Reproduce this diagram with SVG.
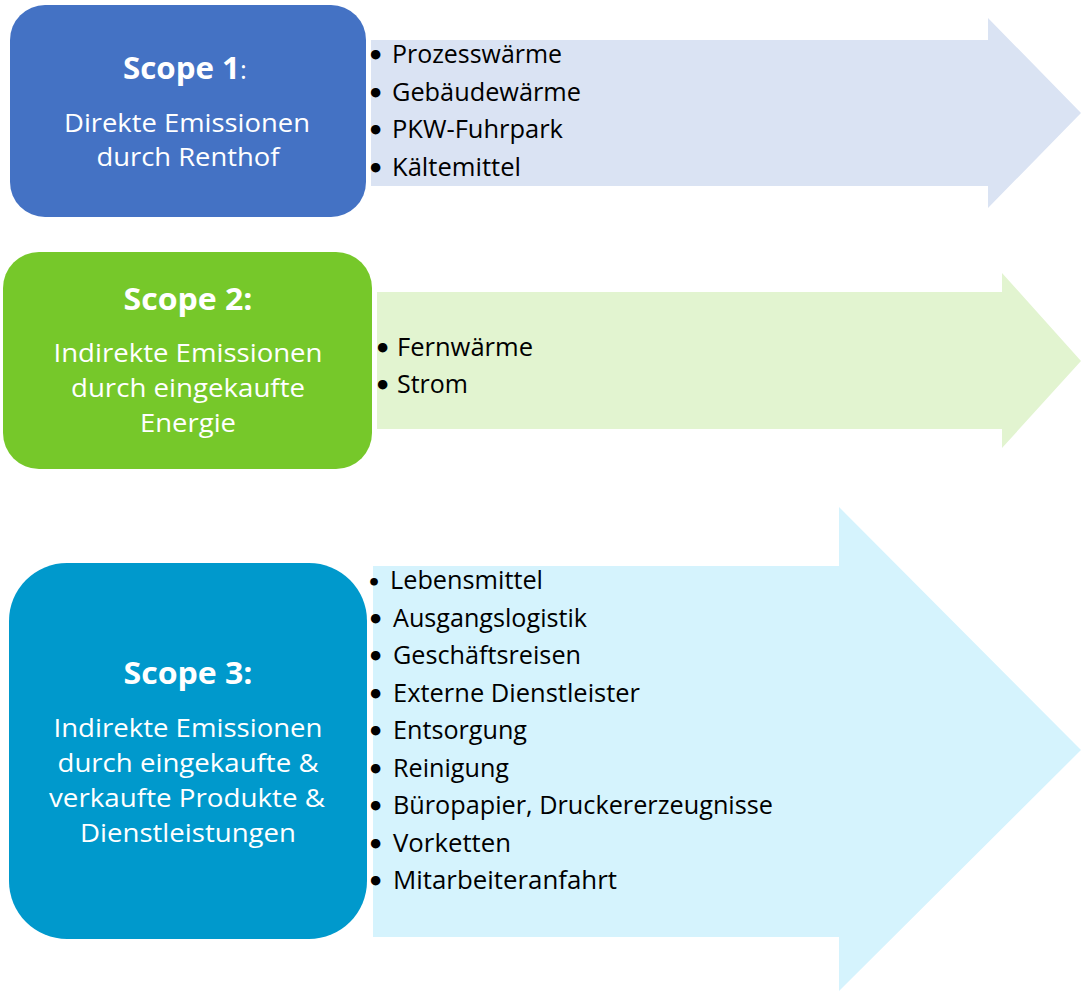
<svg xmlns="http://www.w3.org/2000/svg" width="1081" height="991" viewBox="0 0 1081 991">
<style>
.box-title{font-family:"Open Sans","Noto Sans",sans-serif;font-weight:700;font-size:30px;fill:#ffffff}
.box-text{font-family:"Open Sans","Noto Sans",sans-serif;font-size:26px;fill:#ffffff}
.item{font-family:"Open Sans","Noto Sans",sans-serif;font-size:26px;fill:#000000}
.bullet{font-family:"DejaVu Sans",sans-serif;font-size:27px;font-weight:700}
.bullet-s{font-family:"DejaVu Sans",sans-serif;font-size:22px;font-weight:700}
</style>
<rect x="0" y="0" width="1081" height="991" fill="#ffffff"/>
<g id="connectors"/>
<g id="arrow1">
<polygon points="371,40 988,40 988,18 1081,113 988,208 988,186 371,186" fill="#DAE3F3"/>
<text class="item" y="63"><tspan class="bullet" x="367" dy="2">•</tspan><tspan x="392" dy="-2" textLength="170" lengthAdjust="spacingAndGlyphs">Prozesswärme</tspan></text>
<text class="item" y="101"><tspan class="bullet" x="367" dy="2">•</tspan><tspan x="392" dy="-2" textLength="189" lengthAdjust="spacingAndGlyphs">Gebäudewärme</tspan></text>
<text class="item" y="138"><tspan class="bullet" x="367" dy="2">•</tspan><tspan x="392" dy="-2" textLength="171" lengthAdjust="spacingAndGlyphs">PKW-Fuhrpark</tspan></text>
<text class="item" y="176"><tspan class="bullet" x="367" dy="2">•</tspan><tspan x="392" dy="-2" textLength="129" lengthAdjust="spacingAndGlyphs">Kältemittel</tspan></text>
</g>
<g id="scope1">
<rect x="10" y="5" width="356" height="212" rx="35" ry="35" fill="#4472C4"/>
<text x="123" y="79"><tspan class="box-title" textLength="117" lengthAdjust="spacingAndGlyphs">Scope 1</tspan><tspan class="box-text" font-size="30">:</tspan></text>
<text class="box-text" x="187" y="132" text-anchor="middle" textLength="246" lengthAdjust="spacingAndGlyphs">Direkte Emissionen</text>
<text class="box-text" x="188" y="166" text-anchor="middle" textLength="183" lengthAdjust="spacingAndGlyphs">durch Renthof</text>
</g>
<g id="arrow2">
<polygon points="377,292 1002,292 1002,273 1081,361 1002,448 1002,429 377,429" fill="#E2F4D0"/>
<text class="item" y="356"><tspan class="bullet" x="374" dy="2">•</tspan><tspan x="397" dy="-2" textLength="136" lengthAdjust="spacingAndGlyphs">Fernwärme</tspan></text>
<text class="item" y="393"><tspan class="bullet" x="374" dy="2">•</tspan><tspan x="397" dy="-2" textLength="71" lengthAdjust="spacingAndGlyphs">Strom</tspan></text>
</g>
<g id="scope2">
<rect x="3" y="252" width="369" height="217" rx="36" ry="36" fill="#76C82A"/>
<text class="box-title" x="188" y="310" text-anchor="middle" textLength="129" lengthAdjust="spacingAndGlyphs">Scope 2:</text>
<text class="box-text" x="188" y="362" text-anchor="middle" textLength="269" lengthAdjust="spacingAndGlyphs">Indirekte Emissionen</text>
<text class="box-text" x="188" y="397" text-anchor="middle" textLength="234" lengthAdjust="spacingAndGlyphs">durch eingekaufte</text>
<text class="box-text" x="188" y="432" text-anchor="middle" textLength="96" lengthAdjust="spacingAndGlyphs">Energie</text>
</g>
<g id="arrow3">
<polygon points="373,566 839,566 839,507 1081,750 839,991 839,937 373,937" fill="#D5F3FD"/>
<text class="item" y="589"><tspan class="bullet-s" x="367" dy="1">•</tspan><tspan x="390" dy="-1" textLength="153" lengthAdjust="spacingAndGlyphs">Lebensmittel</tspan></text>
<text class="item" y="627"><tspan class="bullet" x="367" dy="2">•</tspan><tspan x="393" dy="-2" textLength="194" lengthAdjust="spacingAndGlyphs">Ausgangslogistik</tspan></text>
<text class="item" y="664"><tspan class="bullet" x="367" dy="2">•</tspan><tspan x="393" dy="-2" textLength="188" lengthAdjust="spacingAndGlyphs">Geschäftsreisen</tspan></text>
<text class="item" y="702"><tspan class="bullet" x="367" dy="2">•</tspan><tspan x="393" dy="-2" textLength="247" lengthAdjust="spacingAndGlyphs">Externe Dienstleister</tspan></text>
<text class="item" y="739"><tspan class="bullet" x="367" dy="2">•</tspan><tspan x="393" dy="-2" textLength="134" lengthAdjust="spacingAndGlyphs">Entsorgung</tspan></text>
<text class="item" y="777"><tspan class="bullet" x="367" dy="2">•</tspan><tspan x="393" dy="-2" textLength="116" lengthAdjust="spacingAndGlyphs">Reinigung</tspan></text>
<text class="item" y="814"><tspan class="bullet" x="367" dy="2">•</tspan><tspan x="393" dy="-2" textLength="380" lengthAdjust="spacingAndGlyphs">Büropapier, Druckererzeugnisse</tspan></text>
<text class="item" y="852"><tspan class="bullet" x="367" dy="2">•</tspan><tspan x="393" dy="-2" textLength="118" lengthAdjust="spacingAndGlyphs">Vorketten</tspan></text>
<text class="item" y="889"><tspan class="bullet" x="367" dy="2">•</tspan><tspan x="393" dy="-2" textLength="224" lengthAdjust="spacingAndGlyphs">Mitarbeiteranfahrt</tspan></text>
</g>
<g id="scope3">
<rect x="9" y="563" width="358" height="376" rx="58" ry="58" fill="#0099CC"/>
<text class="box-title" x="188" y="684" text-anchor="middle" textLength="129" lengthAdjust="spacingAndGlyphs">Scope 3:</text>
<text class="box-text" x="188" y="737" text-anchor="middle" textLength="269" lengthAdjust="spacingAndGlyphs">Indirekte Emissionen</text>
<text class="box-text" x="188" y="772" text-anchor="middle" textLength="261" lengthAdjust="spacingAndGlyphs">durch eingekaufte &amp;</text>
<text class="box-text" x="187" y="807" text-anchor="middle" textLength="276" lengthAdjust="spacingAndGlyphs">verkaufte Produkte &amp;</text>
<text class="box-text" x="188" y="842" text-anchor="middle" textLength="216" lengthAdjust="spacingAndGlyphs">Dienstleistungen</text>
</g>
</svg>
